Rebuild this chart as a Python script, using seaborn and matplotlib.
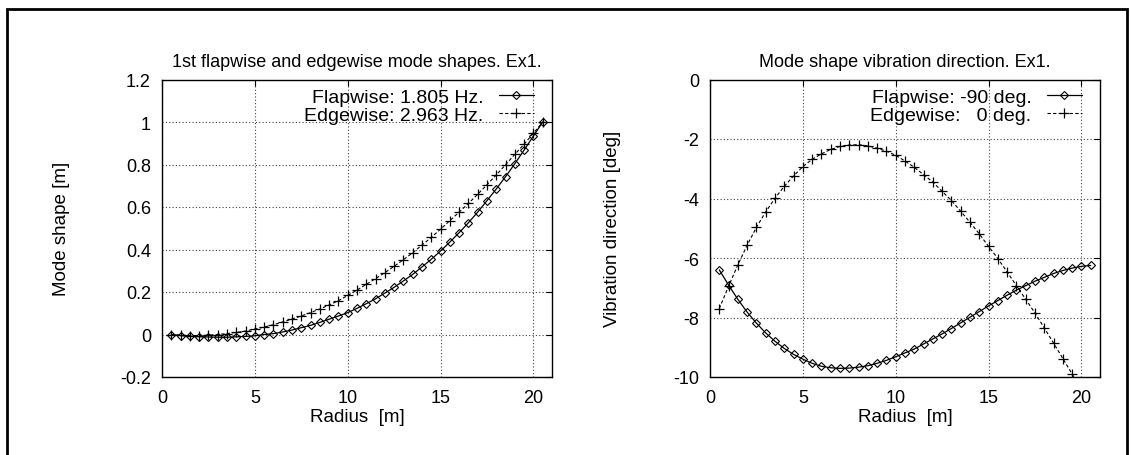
import matplotlib
matplotlib.use("Agg")
import matplotlib.pyplot as plt
from matplotlib.patches import Rectangle
import seaborn as sns
import pandas as pd

# ---------------- data ----------------
radius = [0.5, 1.0, 1.5, 2.0, 2.5, 3.0, 3.5, 4.0, 4.5, 5.0,
          5.5, 6.0, 6.5, 7.0, 7.5, 8.0, 8.5, 9.0, 9.5, 10.0,
          10.5, 11.0, 11.5, 12.0, 12.5, 13.0, 13.5, 14.0, 14.5, 15.0,
          15.5, 16.0, 16.5, 17.0, 17.5, 18.0, 18.5, 19.0, 19.5, 20.0, 20.5]

flap_shape = [0.000, -0.005, -0.009, -0.010, -0.012, -0.013, -0.013, -0.011, -0.009, -0.006,
              0.000, 0.004, 0.012, 0.021, 0.032, 0.043, 0.057, 0.072, 0.087, 0.103,
              0.123, 0.145, 0.168, 0.195, 0.222, 0.252, 0.283, 0.318, 0.354, 0.393,
              0.435, 0.479, 0.526, 0.576, 0.630, 0.685, 0.743, 0.804, 0.868, 0.934, 1.000]

edge_shape = [0.000, -0.003, -0.005, -0.005, -0.003, 0.000, 0.004, 0.010, 0.016, 0.026,
              0.035, 0.046, 0.059, 0.073, 0.087, 0.103, 0.120, 0.139, 0.159, 0.184,
              0.209, 0.236, 0.263, 0.291, 0.321, 0.352, 0.385, 0.421, 0.457, 0.496,
              0.536, 0.576, 0.617, 0.660, 0.705, 0.751, 0.799, 0.848, 0.896, 0.947, 1.000]

flap_dir = [-6.40, -6.91, -7.39, -7.82, -8.19, -8.52, -8.80, -9.04, -9.24, -9.40,
            -9.54, -9.64, -9.69, -9.71, -9.70, -9.67, -9.62, -9.54, -9.44, -9.32,
            -9.19, -9.06, -8.89, -8.72, -8.55, -8.37, -8.18, -7.99, -7.80, -7.61,
            -7.43, -7.25, -7.08, -6.93, -6.78, -6.65, -6.52, -6.42, -6.34, -6.28, -6.25]

edge_dir = [-7.70, -6.95, -6.23, -5.57, -4.97, -4.45, -3.99, -3.59, -3.24, -2.93,
            -2.68, -2.50, -2.35, -2.25, -2.20, -2.19, -2.23, -2.31, -2.41, -2.55,
            -2.74, -2.95, -3.20, -3.45, -3.76, -4.07, -4.43, -4.80, -5.19, -5.61,
            -6.02, -6.47, -6.93, -7.39, -7.85, -8.35, -8.86, -9.38, -9.90, -10.45, -11.00]

shape_labels = ["Flapwise: 1.805 Hz.", "Edgewise: 2.963 Hz."]
dir_labels = ["Flapwise: -90 deg.", "Edgewise:   0 deg."]

x_ticks = [0, 5, 10, 15, 20]
shape_ticks = [-0.2, 0, 0.2, 0.4, 0.6, 0.8, 1, 1.2]
shape_ticklabels = ["-0.2", "0", "0.2", "0.4", "0.6", "0.8", "1", "1.2"]
dir_ticks = [-10, -8, -6, -4, -2, 0]
dir_ticklabels = ["-10", "-8", "-6", "-4", "-2", "0"]

# ---------------- style ----------------
sns.set_theme(style="white")
plt.rcParams["font.family"] = ["Liberation Sans", "DejaVu Sans"]
plt.rcParams["font.size"] = 13
plt.rcParams["axes.edgecolor"] = "black"
plt.rcParams["axes.linewidth"] = 1.0
plt.rcParams["text.color"] = "black"
plt.rcParams["axes.labelcolor"] = "black"
plt.rcParams["xtick.color"] = "black"
plt.rcParams["ytick.color"] = "black"

W, H = 1131, 456
fig = plt.figure(figsize=(W / 100, H / 100), dpi=100)
fig.patch.set_facecolor("white")

ax_top, ax_bot = 80.5, 378
ax_h = ax_bot - ax_top
ax1 = fig.add_axes([162 / W, 1 - ax_bot / H, 390 / W, ax_h / H])
ax2 = fig.add_axes([710 / W, 1 - ax_bot / H, 390 / W, ax_h / H])

df_shape = pd.DataFrame({"r": radius, "flap": flap_shape, "edge": edge_shape})
df_dir = pd.DataFrame({"r": radius, "flap": flap_dir, "edge": edge_dir})

def draw(ax, df, labels):
    sns.lineplot(data=df, x="r", y="flap", ax=ax, color="black", lw=0.9,
                 marker="D", markersize=4.2, markerfacecolor="none",
                 markeredgecolor="black", markeredgewidth=0.8,
                 label=labels[0], sort=False)
    sns.lineplot(data=df, x="r", y="edge", ax=ax, color="black", lw=0.8,
                 linestyle=(0, (3, 2)), marker="+", markersize=6.5,
                 markeredgewidth=0.9, markeredgecolor="black",
                 label=labels[1], sort=False)

draw(ax1, df_shape, shape_labels)
draw(ax2, df_dir, dir_labels)

for ax, yt, ytl, ylim, title, ylabel, ylx in [
    (ax1, shape_ticks, shape_ticklabels, (-0.2, 1.2),
     "1st flapwise and edgewise mode shapes. Ex1.", "Mode shape [m]", -0.237),
    (ax2, dir_ticks, dir_ticklabels, (-10, 0),
     "Mode shape vibration direction. Ex1.", "Vibration direction [deg]", -0.227),
]:
    ax.set_xlim(0, 21)
    ax.set_ylim(*ylim)
    ax.set_xticks(x_ticks)
    ax.set_xticklabels([str(t) for t in x_ticks])
    ax.set_yticks(yt)
    ax.set_yticklabels(ytl)
    ax.grid(True, color="0.25", linestyle=(0, (1, 2)), linewidth=0.8)
    ax.tick_params(direction="in", length=4, width=0.8, top=True, right=True,
                   labelsize=13)
    ax.tick_params(axis="x", pad=8.5)
    ax.tick_params(axis="y", pad=8)
    for s in ax.spines.values():
        s.set_visible(True)
        s.set_color("black")
        s.set_linewidth(1.0)
    ax.set_title(title, fontsize=13, pad=10)
    ax.set_xlabel("Radius  [m]", fontsize=13.5)
    ax.set_ylabel(ylabel, fontsize=13.5)
    ax.yaxis.set_label_coords(ylx, 0.5)
    ax.xaxis.set_label_coords(0.5, -0.105)
    ax.legend(loc="upper right", bbox_to_anchor=(1 - 18.5 / 390, 1 - 8.9 / ax_h),
              frameon=False, markerfirst=False, handlelength=1.8,
              handletextpad=0.77, labelspacing=0.0, borderaxespad=0,
              borderpad=0, fontsize=14)

# outer frame
fig.add_artist(Rectangle((7 / W, -0.05), (1127 - 7) / W, 1.05 - 10 / H,
                         transform=fig.transFigure, fill=False,
                         edgecolor="black", linewidth=2))

fig.savefig("out.png", dpi=100, facecolor="white")
